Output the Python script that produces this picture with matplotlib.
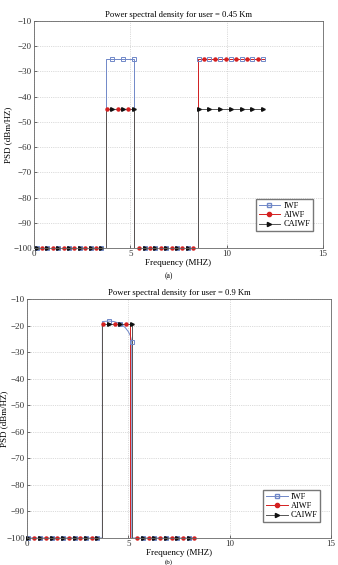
import matplotlib
matplotlib.use("Agg")
import matplotlib.pyplot as plt

plt.rcParams['font.family'] = ['Liberation Serif', 'DejaVu Serif']
plt.rcParams['font.size'] = 6

# ---- panel (a): user = 0.45 Km ----
a_title = 'Power spectral density for user = 0.45 Km'
# step outlines (frequency MHz, PSD dBm/Hz)
a_iwf_f = [0, 3.75, 3.75, 5.2, 5.2, 8.5, 8.5, 11.95]
a_iwf_p = [-100, -100, -25, -25, -100, -100, -25, -25]
a_aiwf_f = [0, 3.75, 3.75, 5.2, 5.2, 8.5, 8.5, 11.95]
a_aiwf_p = [-100, -100, -45, -45, -100, -100, -25, -25]
a_caiwf_f = [0, 3.75, 3.75, 5.2, 5.2, 8.5, 8.5, 11.95]
a_caiwf_p = [-100, -100, -45, -45, -100, -100, -45, -45]
# sampled marker points
a_mk_f = [0.14, 0.70, 1.26, 1.82, 2.38, 2.94, 3.50, 4.06, 4.62, 5.18, 5.74,
          6.30, 6.86, 7.42, 7.98, 8.54, 9.10, 9.66, 10.22, 10.78, 11.34, 11.90]
a_iwf_mk = [-100] * 7 + [-25] * 3 + [-100] * 5 + [-25] * 7
a_caiwf_mk = [-100] * 7 + [-45] * 3 + [-100] * 5 + [-45] * 7
a_aiwf_mk_f = [0.42, 0.98, 1.54, 2.10, 2.66, 3.22, 3.78, 4.34, 4.90, 5.46, 6.02,
               6.58, 7.14, 7.70, 8.26, 8.82, 9.38, 9.94, 10.50, 11.06, 11.62]
a_aiwf_mk = [-100] * 6 + [-45] * 3 + [-100] * 6 + [-25] * 6

# ---- panel (b): user = 0.9 Km ----
b_title = 'Power spectral density for user = 0.9 Km'
b_iwf_f = [0, 3.72, 3.72, 4.03, 4.30, 4.50, 4.70, 4.85, 5.00, 5.10, 5.17, 5.17, 8.3]
b_iwf_p = [-100, -100, -18.5, -18.3, -18.5, -19.0, -19.8, -20.8, -22.3, -23.8, -26.2, -100, -100]
b_aiwf_f = [0, 3.72, 3.72, 5.06, 5.06, 8.3]
b_aiwf_p = [-100, -100, -19.5, -19.5, -100, -100]
b_caiwf_f = [0, 3.72, 3.72, 5.17, 5.17, 8.3]
b_caiwf_p = [-100, -100, -19.4, -19.4, -100, -100]
b_mk_f = [0.07, 0.64, 1.21, 1.78, 2.35, 2.91, 3.47, 4.03, 4.60, 5.17,
          5.72, 6.28, 6.85, 7.41, 7.98]
b_iwf_mk = [-100] * 7 + [-18.2, -19.3, -26.2] + [-100] * 5
b_caiwf_mk = [-100] * 7 + [-19.4] * 3 + [-100] * 5
b_aiwf_mk_f = [0.35, 0.92, 1.49, 2.06, 2.63, 3.19, 3.75, 4.32, 4.88,
               5.44, 6.00, 6.57, 7.13, 7.69, 8.26]
b_aiwf_mk = [-100] * 6 + [-19.5] * 3 + [-100] * 6

labels = ['IWF', 'AIWF', 'CAIWF']
c_iwf, c_aiwf, c_caiwf = '#7088c8', '#d42020', '#555555'
c_mk_black = '#111111'
xticks = [0, 5, 10, 15]
yticks = [-10, -20, -30, -40, -50, -60, -70, -80, -90, -100]


def draw(ax, title, iwf, aiwf, caiwf, mk_f, iwf_mk, caiwf_mk, aiwf_mk_f, aiwf_mk, leg_y):
    ax.plot(*iwf, color=c_iwf, lw=0.7)
    ax.plot(*aiwf, color=c_aiwf, lw=0.7)
    ax.plot(*caiwf, color=c_caiwf, lw=0.7)
    ax.plot(mk_f, iwf_mk, ls='none', marker='s', ms=3.0, mfc='none', mec=c_iwf, mew=0.7, clip_on=False)
    ax.plot(aiwf_mk_f, aiwf_mk, ls='none', marker='o', ms=2.2, mfc=c_aiwf, mec=c_aiwf, clip_on=False)
    ax.plot(mk_f, caiwf_mk, ls='none', marker='>', ms=2.6, mfc=c_mk_black, mec=c_mk_black, clip_on=False)
    # legend proxies
    h1, = ax.plot([], [], color=c_iwf, lw=0.7, marker='s', ms=3, mfc='none', mec=c_iwf)
    h2, = ax.plot([], [], color=c_aiwf, lw=0.7, marker='o', ms=3, mfc=c_aiwf, mec=c_aiwf)
    h3, = ax.plot([], [], color=c_caiwf, lw=0.7, marker='>', ms=3, mfc=c_mk_black, mec=c_mk_black)
    ax.legend([h1, h2, h3], labels, loc='lower right', bbox_to_anchor=(0.965, leg_y),
              fontsize=6, frameon=True, fancybox=False, edgecolor='#555555',
              handlelength=2.6, handletextpad=0.4, borderpad=0.3, labelspacing=0.15,
              borderaxespad=0)
    ax.set_xlim(0, 15)
    ax.set_ylim(-100, -10)
    ax.set_xticks(xticks)
    ax.set_yticks(yticks)
    ax.set_yticklabels(['\u2212%d' % -v for v in yticks])
    ax.tick_params(direction='in', length=2.5, width=0.5, colors='#333333', labelsize=6.5, pad=1.5)
    ax.grid(True, ls=':', lw=0.5, color='#bbbbbb')
    for s in ax.spines.values():
        s.set_color('#666666')
        s.set_linewidth(0.6)
    ax.set_title(title, fontsize=6.2, pad=3)
    ax.set_xlabel('Frequency (MHZ)', fontsize=6.5, labelpad=1)
    ax.set_ylabel('PSD (dBm/HZ)', fontsize=6.5, labelpad=1)


fig = plt.figure(figsize=(3.38, 5.65), dpi=100)
ax1 = fig.add_axes([0.1006, 0.5611, 0.855, 0.4017])
ax2 = fig.add_axes([0.0799, 0.0478, 0.8994, 0.4230])

draw(ax1, a_title, (a_iwf_f, a_iwf_p), (a_aiwf_f, a_aiwf_p), (a_caiwf_f, a_caiwf_p),
     a_mk_f, a_iwf_mk, a_caiwf_mk, a_aiwf_mk_f, a_aiwf_mk, 0.075)
draw(ax2, b_title, (b_iwf_f, b_iwf_p), (b_aiwf_f, b_aiwf_p), (b_caiwf_f, b_caiwf_p),
     b_mk_f, b_iwf_mk, b_caiwf_mk, b_aiwf_mk_f, b_aiwf_mk, 0.067)
ax2.yaxis.set_label_coords(-0.062, 0.5)

fig.text(0.5, 1 - 276 / 565, '(a)', ha='center', va='center', fontsize=5.5)
fig.text(0.5, 0.0005, '(b)', ha='center', va='bottom', fontsize=5)

fig.savefig('out.png', dpi=100)
